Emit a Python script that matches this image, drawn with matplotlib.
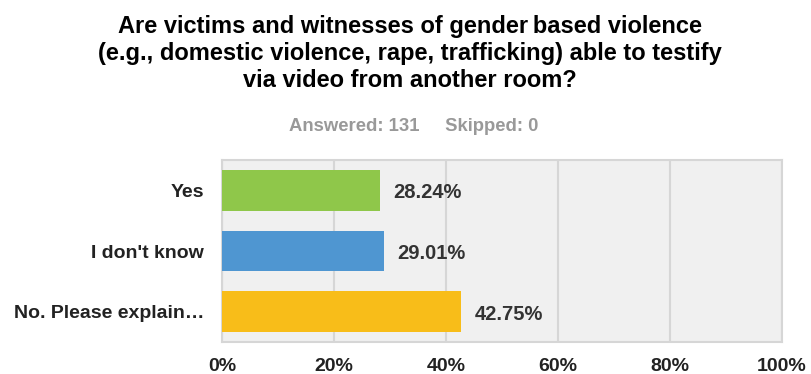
import matplotlib
matplotlib.use("Agg")
import matplotlib.pyplot as plt

categories = ["Yes", "I don't know", "No. Please explain\u2026"]
values = [28.24, 29.01, 42.75]
colors = ["#8FC74A", "#4F96D1", "#F8BD19"]
xticks = [0, 20, 40, 60, 80, 100]
xtick_labels = ["0%", "20%", "40%", "60%", "80%", "100%"]

plt.rcParams["font.family"] = ["Liberation Sans", "DejaVu Sans"]

fig = plt.figure(figsize=(8.11, 3.74), dpi=100)
W, H = 811, 374
ax = fig.add_axes([222 / W, 1 - 342 / H, (782 - 222) / W, (342 - 160) / H])

ax.set_facecolor("#F0F0F0")
y = list(range(len(categories)))
ax.barh(y, values, height=0.67, color=colors, zorder=3)
ax.set_ylim(len(categories) - 0.5, -0.5)
ax.set_xlim(0, 100)

ax.set_xticks(xticks)
ax.set_xticklabels(xtick_labels, fontsize=14, fontweight="bold", color="#222222")
ax.set_yticks(y)
ax.set_yticklabels(categories, fontsize=14, fontweight="bold", color="#222222")
ax.tick_params(axis="both", length=0)
ax.tick_params(axis="x", pad=11.5)
ax.tick_params(axis="y", pad=13)

ax.grid(axis="x", color="#D6D6D6", linewidth=1.5, zorder=1)
for s in ax.spines.values():
    s.set_color("#D6D6D6")
    s.set_linewidth(1.5)

for yi, v in zip(y, values):
    ax.text(v + 2.3, yi + 0.04, f"{v:.2f}%", va="center", ha="left",
            fontsize=14.5, fontweight="bold", color="#333333", zorder=4)

title_lines = [
    "Are victims and witnesses of gender\u2009based violence",
    "(e.g., domestic violence, rape, trafficking) able to testify",
    "via video from another room?",
]
title_baselines = [33, 60, 87]
for line, b in zip(title_lines, title_baselines):
    fig.text(410 / W, 1 - b / H, line, ha="center", va="baseline",
             fontsize=17, fontweight="bold", color="#000000")

fig.text(414 / W, 1 - 131 / H, "Answered: 131     Skipped: 0", ha="center",
         va="baseline", fontsize=13.3, fontweight="bold", color="#999999")

fig.savefig("out.png", dpi=100)
